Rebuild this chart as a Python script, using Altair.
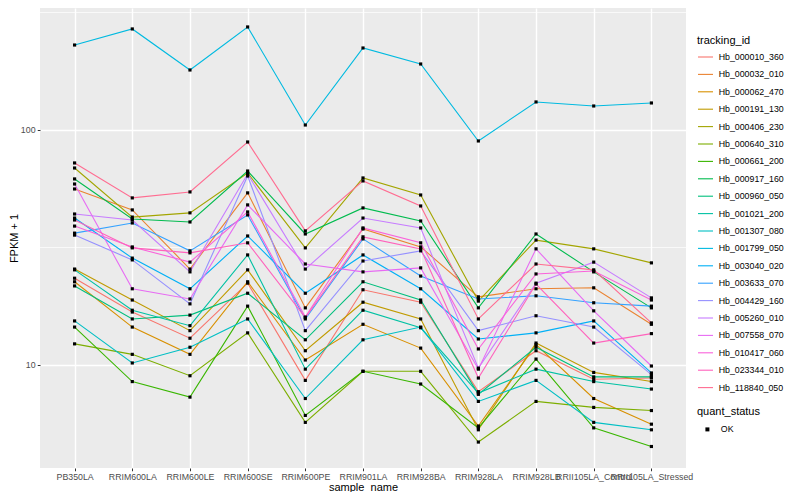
import altair as alt
import pandas as pd

samples = ["PB350LA", "RRIM600LA", "RRIM600LE", "RRIM600SE", "RRIM600PE", "RRIM901LA",
           "RRIM928BA", "RRIM928LA", "RRIM928LB", "RRII105LA_Control", "RRII105LA_Stressed"]

tracking_ids = ["Hb_000010_360", "Hb_000032_010", "Hb_000062_470", "Hb_000191_130",
                "Hb_000406_230", "Hb_000640_310", "Hb_000661_200", "Hb_000917_160",
                "Hb_000960_050", "Hb_001021_200", "Hb_001307_080", "Hb_001799_050",
                "Hb_003040_020", "Hb_003633_070", "Hb_004429_160", "Hb_005260_010",
                "Hb_007558_070", "Hb_010417_060", "Hb_023344_010", "Hb_118840_050"]

hue_colors = ["#F8766D", "#EA8331", "#D89000", "#C09B00", "#A3A500", "#7CAE00", "#39B600",
              "#00BB4E", "#00BF7D", "#00C1A3", "#00BFC4", "#00BAE0", "#00B0F6", "#35A2FF",
              "#9590FF", "#C77CFF", "#E76BF3", "#FA62DB", "#FF62BC", "#FF6C91"]

# FPKM + 1 per sample (same order as samples)
hb_000010_360 = [23.4, 16.8, 13.0, 22.3, 8.6, 20.9, 18.5, 7.7, 11.5, 8.7, 8.8]
hb_000032_010 = [56.1, 45.7, 25.6, 54.0, 17.5, 37.9, 31.8, 19.5, 21.1, 21.3, 14.9]
hb_000062_470 = [22.6, 14.5, 11.1, 22.6, 10.5, 14.9, 11.8, 5.5, 12.2, 7.2, 5.6]
hb_000191_130 = [25.6, 18.9, 14.0, 25.4, 11.5, 18.5, 15.7, 5.3, 12.4, 9.3, 8.5]
hb_000406_230 = [68.9, 42.6, 44.4, 65.6, 31.5, 62.5, 52.9, 18.7, 34.0, 31.2, 27.2]
hb_000640_310 = [12.3, 11.1, 9.0, 13.7, 5.7, 9.4, 9.4, 4.7, 7.0, 6.6, 6.4]
hb_000661_200 = [14.5, 8.5, 7.3, 17.8, 6.1, 9.4, 8.3, 5.4, 10.6, 5.4, 4.5]
hb_000917_160 = [61.9, 41.8, 40.6, 66.9, 36.1, 46.6, 41.0, 17.5, 36.1, 24.9, 17.5]
hb_000960_050 = [21.7, 15.7, 16.3, 20.2, 12.8, 22.6, 18.9, 7.5, 11.9, 8.9, 8.9]
hb_001021_200 = [25.4, 17.1, 14.7, 29.4, 9.6, 17.1, 14.4, 7.6, 9.6, 8.5, 7.9]
hb_001307_080 = [15.4, 10.2, 11.9, 15.7, 7.2, 12.8, 14.5, 7.0, 8.6, 5.7, 5.3]
hb_001799_050 = [229.9, 269.1, 180.0, 274.4, 105.0, 223.3, 190.9, 89.8, 131.6, 126.5, 130.3]
hb_003040_020 = [42.2, 28.5, 21.1, 35.4, 20.2, 29.4, 21.1, 12.9, 13.7, 15.4, 9.25]
hb_003633_070 = [36.4, 40.2, 30.6, 43.5, 15.7, 34.4, 23.9, 19.1, 19.7, 18.4, 17.8]
hb_004429_160 = [35.7, 28.0, 18.2, 63.7, 14.0, 27.7, 30.6, 14.0, 16.2, 14.5, 9.1]
hb_005260_010 = [43.9, 41.4, 24.9, 65.0, 25.6, 42.2, 38.3, 9.7, 22.3, 27.4, 19.3]
hb_007558_070 = [58.9, 21.1, 19.1, 48.0, 26.9, 24.9, 25.9, 9.6, 31.2, 17.0, 9.9]
hb_010417_060 = [39.0, 31.8, 27.4, 44.8, 16.0, 38.3, 33.1, 11.7, 24.4, 25.1, 18.9]
hb_023344_010 = [41.4, 31.5, 30.0, 33.1, 15.9, 35.1, 31.2, 8.8, 22.1, 12.4, 13.6]
hb_118840_050 = [72.4, 51.4, 54.5, 88.9, 37.2, 60.7, 47.5, 15.7, 26.9, 25.4, 15.1]

all_series = [hb_000010_360, hb_000032_010, hb_000062_470, hb_000191_130, hb_000406_230,
              hb_000640_310, hb_000661_200, hb_000917_160, hb_000960_050, hb_001021_200,
              hb_001307_080, hb_001799_050, hb_003040_020, hb_003633_070, hb_004429_160,
              hb_005260_010, hb_007558_070, hb_010417_060, hb_023344_010, hb_118840_050]

minor_breaks = [31.62, 316.2]

rows = []
for tid, vals in zip(tracking_ids, all_series):
    for i, (s, v) in enumerate(zip(samples, vals)):
        rows.append({"tracking_id": tid, "sample_name": s, "fpkm": v,
                     "quant_status": "OK", "order": i})
df = pd.DataFrame(rows)

FONT = "Liberation Sans"
Y_DOMAIN = [3.645, 330.4]

x_enc = alt.X("sample_name:N", sort=samples, title="sample_name",
              scale=alt.Scale(type="point", padding=0.6),
              axis=alt.Axis(labelAngle=0, labelOverlap=False, labelBound=False,
                            labelFlush=False, labelFontSize=8.8, labelColor="#4D4D4D",
                            tickColor="#333333", tickSize=2.75, labelPadding=1.5,
                            domain=False, grid=True, gridColor="white", gridWidth=1.4,
                            titleFontSize=11, titleFontWeight="normal", titleColor="black",
                            titleBaseline="alphabetic", titleY=22))
y_enc = alt.Y("fpkm:Q", title="FPKM + 1",
              scale=alt.Scale(type="log", domain=Y_DOMAIN, nice=False),
              axis=alt.Axis(values=[10, 100], format="d", labelFontSize=8.8,
                            labelColor="#4D4D4D", tickColor="#333333", tickSize=2.75,
                            labelPadding=2.2, domain=False, grid=True, gridColor="white",
                            gridWidth=1.4, titleFontSize=11, titleFontWeight="normal",
                            titleColor="black", titlePadding=1))

minor = alt.Chart(pd.DataFrame({"v": minor_breaks})).mark_rule(
    color="white", strokeWidth=0.7
).encode(y=alt.Y("v:Q", scale=alt.Scale(type="log", domain=Y_DOMAIN, nice=False)))

lines = alt.Chart(df).mark_line(strokeWidth=1.1).encode(
    x=x_enc, y=y_enc,
    order="order:Q",
    color=alt.Color("tracking_id:N", sort=tracking_ids,
                    scale=alt.Scale(domain=tracking_ids, range=hue_colors),
                    legend=alt.Legend(title="tracking_id", orient="none", legendX=657,
                                      legendY=27, direction="vertical",
                                      symbolType="stroke", symbolSize=225,
                                      symbolStrokeWidth=1.1, labelFontSize=8.8,
                                      titleFontSize=11, titleFontWeight="normal",
                                      rowPadding=3.4, titlePadding=2.5, labelOffset=4.7,
                                      padding=0, labelColor="black", titleColor="black")),
)

points = alt.Chart(df).mark_point(shape="square", filled=True, color="black",
                                  size=10, opacity=1).encode(
    x=alt.X("sample_name:N", sort=samples),
    y=alt.Y("fpkm:Q"),
    shape=alt.Shape("quant_status:N", scale=alt.Scale(range=["square"]),
                    legend=alt.Legend(title="quant_status", orient="none", legendX=657,
                                      legendY=398, direction="vertical", symbolSize=16,
                                      symbolFillColor="black", symbolStrokeColor="black",
                                      symbolOffset=6, labelFontSize=8.8, titleFontSize=11,
                                      titleFontWeight="normal", titlePadding=8,
                                      labelOffset=9, padding=0, labelColor="black",
                                      titleColor="black")),
)

chart = alt.layer(minor, lines, points).properties(
    width=646, height=460,
    autosize=alt.AutoSizeParams(type="none"),
    padding={"left": 32, "top": 0, "right": 100, "bottom": 24},
).configure(font=FONT).configure_view(fill="#EBEBEB", stroke=None)

chart.save("out.html", embed_options={"renderer": "svg", "actions": False})
